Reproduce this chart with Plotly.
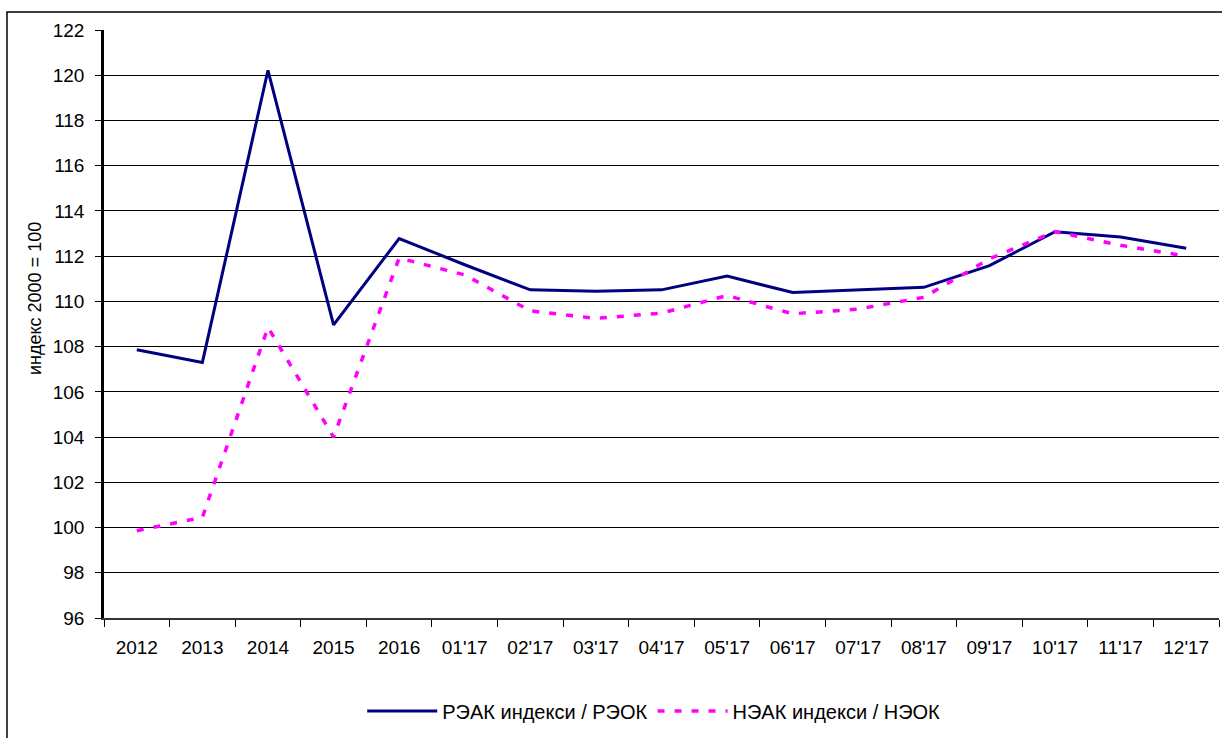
import plotly.graph_objects as go

categories = ["2012", "2013", "2014", "2015", "2016", "01'17", "02'17", "03'17", "04'17",
              "05'17", "06'17", "07'17", "08'17", "09'17", "10'17", "11'17", "12'17"]
reer = [107.86, 107.3, 120.22, 108.96, 112.78, 111.62, 110.51, 110.45, 110.51,
        111.12, 110.39, 110.5, 110.62, 111.58, 113.08, 112.85, 112.35]
neer = [99.86, 100.45, 108.85, 104.0, 111.92, 111.17, 109.58, 109.25, 109.48,
        110.26, 109.45, 109.66, 110.18, 111.88, 113.09, 112.48, 112.0]
name_reer = "РЭАК индекси / РЭОК"
name_neer = "НЭАК индекси / НЭОК"
y_title = "индекс 2000 = 100"

FONT = "Liberation Sans, Arial, sans-serif"

fig = go.Figure()
fig.add_trace(go.Scatter(x=categories, y=reer, mode="lines", name=name_reer,
                         line=dict(color="#000080", width=3)))
fig.add_trace(go.Scatter(x=categories, y=neer, mode="lines", name=name_neer,
                         line=dict(color="#FF00FF", width=3.5, dash="7px,10px")))

fig.update_layout(
    width=1222, height=738,
    margin=dict(l=104, r=3, t=30, b=120),
    paper_bgcolor="white", plot_bgcolor="white",
    font=dict(family=FONT, size=19, color="black"),
    showlegend=True,
    legend=dict(orientation="h", x=0.493, xanchor="center", y=-0.158, yanchor="middle",
                font=dict(size=20), itemwidth=70, bgcolor="rgba(0,0,0,0)"),
    annotations=[dict(text=y_title, textangle=-90, xref="paper", yref="paper",
                      x=-0.062, y=0.544, xanchor="center", yanchor="middle",
                      showarrow=False, font=dict(size=18))],
    shapes=[dict(type="rect", xref="paper", yref="paper", x0=-0.087, x1=1.02,
                 y0=-0.35, y1=1.0306, line=dict(color="black", width=1.5))],
)
fig.update_xaxes(type="category", showgrid=False, showline=True, linecolor="#333333", linewidth=2,
                 ticks="outside", tickson="boundaries", ticklen=7, tickcolor="black",
                 tickfont=dict(size=19), ticklabelstandoff=11, range=[-0.5, 16.5])
fig.update_yaxes(range=[96, 122], dtick=2, showgrid=True, gridcolor="black", gridwidth=1,
                 showline=True, linecolor="black", linewidth=2.5, ticks="outside", ticklen=6,
                 tickcolor="black", tickfont=dict(size=19), ticklabelstandoff=7, zeroline=False)

fig.write_html("out.html", config={"displayModeBar": False},
               post_script="document.body.style.margin='0px';document.body.style.overflow='hidden';")
